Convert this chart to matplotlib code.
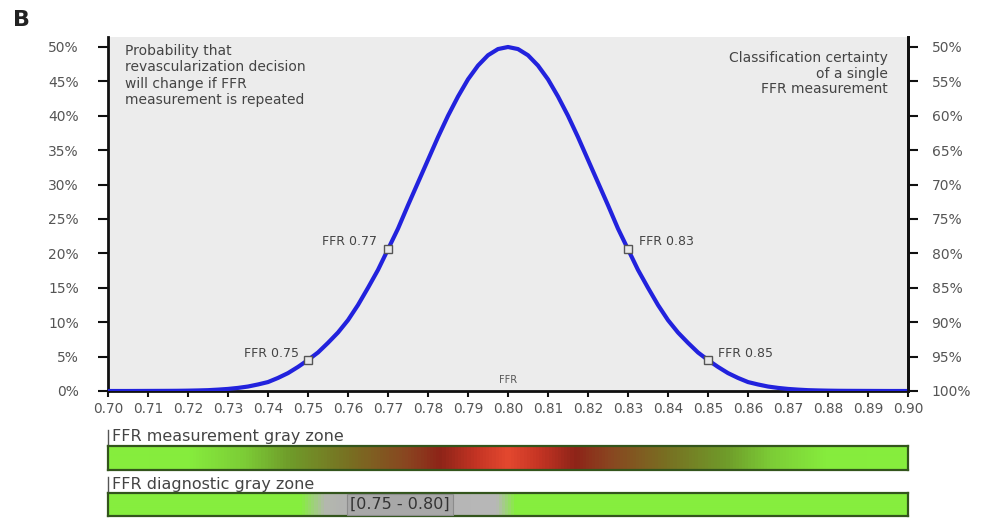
import numpy as np
import matplotlib
matplotlib.use("Agg")
import matplotlib.pyplot as plt
from matplotlib.colors import LinearSegmentedColormap

# ---------------- data ----------------
ffr = np.round(np.arange(0.700, 0.90001, 0.0025), 4)
# probability (%) that the revascularization decision changes on a repeat measurement
prob = [0.0, 0.0, 0.0, 0.005, 0.01, 0.015, 0.02, 0.03, 0.05, 0.08,
        0.12, 0.2, 0.3, 0.45, 0.65, 0.95, 1.3, 1.9, 2.6, 3.5,
        4.5, 5.6, 7.0, 8.5, 10.3, 12.5, 15.0, 17.6, 20.6, 23.6,
        27.0, 30.3, 33.6, 36.9, 40.0, 42.8, 45.3, 47.3, 48.8, 49.7,
        50.0,
        49.7, 48.8, 47.3, 45.3, 42.8, 40.0, 36.9, 33.6, 30.3, 27.0,
        23.6, 20.6, 17.6, 15.0, 12.5, 10.3, 8.5, 7.0, 5.6, 4.5,
        3.5, 2.6, 1.9, 1.3, 0.95, 0.65, 0.45, 0.3, 0.2, 0.12,
        0.08, 0.05, 0.03, 0.02, 0.015, 0.01, 0.005, 0.0, 0.0, 0.0]

marked_ffr = [0.75, 0.77, 0.83, 0.85]
marked_labels = ["FFR 0.75", "FFR 0.77", "FFR 0.83", "FFR 0.85"]

xticks = np.round(np.arange(0.70, 0.9001, 0.01), 2)
xtick_labels = [f"{v:.2f}" for v in xticks]
yticks_left = [0, 5, 10, 15, 20, 25, 30, 35, 40, 45, 50]
ytick_left_labels = [f"{v}%" for v in yticks_left]
ytick_right_labels = [f"{100 - v}%" for v in yticks_left]

diag_zone = (0.75, 0.80)
diag_label = "[0.75 - 0.80]"

# ---------------- figure ----------------
W, H = 988, 518
fig = plt.figure(figsize=(W / 100, H / 100), dpi=100)
fig.patch.set_facecolor("white")

def fx(px):
    return px / W

def fy(py):
    return 1 - py / H

ax_l, ax_r, ax_b = 108, 908, 391
ppu = (391 - 47) / 50.0          # pixels per percent
ytop = 51.5
ax_t = ax_b - ytop * ppu
ax = fig.add_axes([fx(ax_l), fy(ax_b), fx(ax_r - ax_l), (ax_b - ax_t) / H])
ax.set_facecolor("#ececec")
ax.set_xlim(0.70, 0.90)
ax.set_ylim(0, ytop)

ax.spines["top"].set_visible(False)
for s in ["left", "right", "bottom"]:
    ax.spines[s].set_linewidth(2.0)
    ax.spines[s].set_color("#111111")

ax.plot(ffr, prob, color="#2222dd", lw=3.0, solid_capstyle="round",
        solid_joinstyle="round", zorder=3)

mark_vals = [prob[int(np.argmin(np.abs(ffr - m)))] for m in marked_ffr]
ax.plot(marked_ffr, mark_vals, ls="none", marker="s", ms=5.5,
        mfc="#e8e8e8", mec="#555555", mew=1.0, zorder=4)
offsets = [(-9, 7), (-11, 8), (11, 8), (10, 7)]
for m, v, lab, off in zip(marked_ffr, mark_vals, marked_labels, offsets):
    ax.annotate(lab, (m, v), xytext=off, textcoords="offset pixels",
                ha="right" if off[0] < 0 else "left", va="center",
                fontsize=9, color="#444444")

ax.set_xticks(xticks)
ax.set_xticklabels(xtick_labels)
ax.tick_params(axis="x", direction="out", length=4, width=1.5, colors="#111111",
               labelsize=9.8, labelcolor="#555555", pad=4)
ax.set_yticks(yticks_left)
ax.set_yticklabels(ytick_left_labels)
ax.tick_params(axis="y", direction="out", length=7, width=1.5, colors="#111111",
               labelsize=10, labelcolor="#555555", pad=14)

axr = ax.twinx()
axr.set_ylim(0, ytop)
axr.set_yticks(yticks_left)
axr.set_yticklabels(ytick_right_labels)
axr.tick_params(axis="y", direction="out", length=7, width=1.5, colors="#111111",
                labelsize=10, labelcolor="#555555", pad=10)
for s in ["top", "left", "bottom"]:
    axr.spines[s].set_visible(False)
axr.spines["right"].set_linewidth(2.0)
axr.spines["right"].set_color("#111111")

ax.text(0.80, 1.6, "FFR", ha="center", va="center", fontsize=7, color="#555555")

fig.text(fx(125), fy(44), "Probability that\nrevascularization decision\nwill change if FFR\nmeasurement is repeated",
         ha="left", va="top", fontsize=10, color="#444444", linespacing=1.22)
fig.text(fx(888), fy(51), "Classification certainty\nof a single\nFFR measurement",
         ha="right", va="top", fontsize=10, color="#444444", linespacing=1.15,
         multialignment="right")

fig.text(fx(13), fy(20), "B", ha="left", va="center", fontsize=16,
         fontweight="bold", color="#222222")

# ---------------- gray-zone bars ----------------
green = "#86ee3e"
meas_cmap = LinearSegmentedColormap.from_list("meas", [
    (0.00, green), (0.10, "#86ec3d"), (0.17, "#7ccc36"), (0.225, "#6f9c2a"),
    (0.30, "#787022"), (0.375, "#8a4420"), (0.415, "#8e2418"), (0.46, "#c43424"),
    (0.50, "#e4482f"),
    (0.54, "#c43424"), (0.585, "#8e2418"), (0.625, "#8a4420"), (0.70, "#787022"),
    (0.775, "#6f9c2a"), (0.83, "#7ccc36"), (0.90, "#86ec3d"), (1.00, green)])

z0 = (diag_zone[0] - 0.70) / 0.20
z1 = (diag_zone[1] - 0.70) / 0.20
diag_cmap = LinearSegmentedColormap.from_list("diag", [
    (0.00, green), (z0 - 0.01, green), (z0 + 0.02, "#b4b8ae"), (z0 + 0.05, "#b2b2b2"),
    (z1 - 0.015, "#b8b8b8"), (z1 + 0.01, green), (1.00, green)])

grad = np.linspace(0, 1, 800).reshape(1, -1)

def bar(top, bottom, cmap, label):
    bax = fig.add_axes([fx(ax_l), fy(bottom), fx(ax_r - ax_l), (bottom - top) / H])
    bax.imshow(grad, aspect="auto", cmap=cmap, extent=(0.70, 0.90, 0, 1),
               interpolation="bilinear")
    bax.set_xlim(0.70, 0.90)
    bax.set_ylim(0, 1)
    bax.set_xticks([])
    bax.set_yticks([])
    for s in bax.spines.values():
        s.set_color("#33551c")
        s.set_linewidth(1.6)
    fig.text(fx(112), fy(top - 9), label, ha="left", va="center",
             fontsize=11.5, color="#444444")
    fig.add_artist(plt.Line2D([fx(108), fx(108)], [fy(top - 2), fy(top - 16)],
                              color="#555555", lw=1.0))
    return bax

bar(446, 470, meas_cmap, "FFR measurement gray zone")
b2 = bar(493, 516, diag_cmap, "FFR diagnostic gray zone")
b2.text(sum(diag_zone) / 2 - 0.002, 0.5, diag_label, ha="center", va="center",
        fontsize=11.5, color="#333333",
        bbox=dict(boxstyle="square,pad=0.2", fc="#a8a8a8", ec="#8c8c8c", lw=0.8))

fig.savefig("out.png", dpi=100, facecolor="white")
